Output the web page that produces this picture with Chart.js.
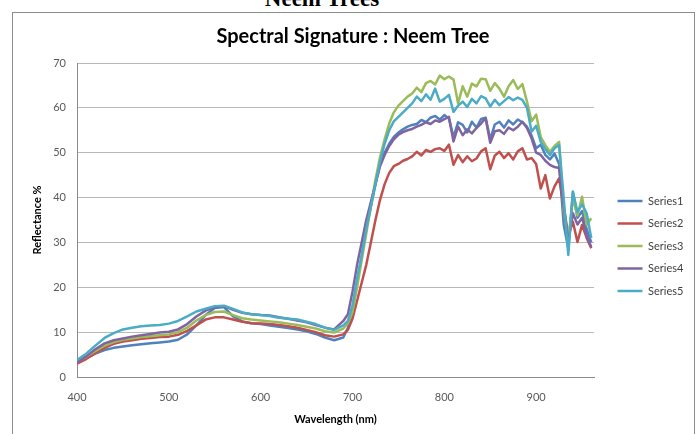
<!DOCTYPE html>
<html>
<head>
<meta charset="utf-8">
<script src="https://cdn.jsdelivr.net/npm/chart.js@4"></script>
<style>
  body { margin: 0; background: #fff; }
  #wrap { position: relative; width: 698px; height: 434px; overflow: hidden; }
  #top { position: absolute; left: 222px; top: -13px; width: 200px; text-align: center;
         font: bold 23px/23px "Liberation Serif", serif; color: #000; }
  #frame { position: absolute; left: 12px; top: 12px; width: 681px; height: 440px; border: 1px solid #8c8c8c; }
  canvas { position: absolute; left: 0; top: 0; }
</style>
</head>
<body>
<div id="wrap">
  <div id="top">Neem Trees</div>
  <canvas id="chart" width="698" height="434"></canvas>
  <div id="frame"></div>
</div>
<script>
// wavelengths (nm): 10 nm through the visible, 5 nm from the red edge on
const wavelengths = [
  400, 410, 420, 430, 440, 450, 460, 470, 480, 490,
  500, 510, 520, 530, 540, 550, 560, 570, 580, 590,
  600, 610, 620, 630, 640, 650, 660, 670, 680, 690,
  695, 700, 705, 710, 715, 720, 725, 730, 735, 740, 745,
  750, 755, 760, 765, 770, 775, 780, 785, 790, 795,
  800, 805, 810, 815, 820, 825, 830, 835, 840, 845,
  850, 855, 860, 865, 870, 875, 880, 885, 890, 895,
  900, 905, 910, 915, 920, 925, 930, 935, 940, 945,
  950, 955, 960
];

const series1 = [
  3.2, 4.2, 5.2, 6.0, 6.5, 6.8, 7.1, 7.3, 7.5, 7.7,
  7.9, 8.3, 9.5, 11.5, 13.8, 15.4, 15.6, 13.5, 12.4, 12.0,
  11.8, 11.5, 11.2, 10.9, 10.6, 10.2, 9.6, 8.8, 8.2, 8.8,
  11, 15, 21, 27, 33, 38, 43, 47.5, 50, 52, 53.5,
  54.5, 55.2, 55.8, 56.2, 56.4, 57.3, 56.8, 57.8, 58.2, 57.4,
  58.4, 57.6, 53.5, 56.8, 56.2, 54.5, 56.9, 55.6, 57.5, 57.8,
  53, 56.3, 56.9, 55.6, 57.2, 56.3, 57.4, 56.8, 55.8, 53.8,
  51, 51.8, 49.5, 48.5, 49.8, 47.5, 34, 28.7, 41.3, 35.5,
  37, 33, 30
];
const series2 = [
  3.0, 4.0, 5.3, 6.5, 7.4, 7.9, 8.2, 8.5, 8.7, 8.9,
  9.0, 9.4, 10.3, 11.5, 12.8, 13.3, 13.3, 12.8, 12.3, 12.0,
  11.9, 11.8, 11.6, 11.3, 11.0, 10.5, 10.0, 9.3, 9.0, 9.5,
  10.5, 13, 17, 21, 25, 30, 35, 39.5, 43, 45.5, 47,
  47.5, 48.2, 48.6, 49.2, 50.2, 49.4, 50.6, 50.2, 50.8, 51,
  50.4, 51.8, 47.3, 49.5, 47.9, 49.2, 48.1, 48.7, 50.3, 51,
  46.3, 49.4, 50.2, 48.8, 49.9, 48.5, 50.3, 51, 48.5, 48.8,
  47.5, 42, 45, 39.8, 42.5, 44.3, 38, 31.6, 34.6, 30.1,
  33.9, 31, 28.7
];
const series3 = [
  3.5, 4.5, 5.8, 7.0, 7.8, 8.3, 8.6, 8.9, 9.1, 9.3,
  9.5, 10.0, 11.0, 12.6, 13.8, 14.5, 14.6, 13.8, 13.1, 12.8,
  12.6, 12.4, 12.2, 11.9, 11.6, 11.2, 10.8, 10.2, 9.9, 10.8,
  12, 14.5, 20, 26, 32, 38, 44, 49, 53, 56.5, 59,
  60.5, 61.5, 62.5, 63.2, 64.5, 63.5, 65.5, 66, 65.2, 67.2,
  66.4, 67, 66.3, 61, 64.8, 62.5, 65.4, 64.8, 66.5, 66.4,
  63.8, 65.5, 64.3, 62.5, 64.8, 66.2, 64.2, 65.3, 61.4, 57,
  58.5, 53.5, 51.7, 50.2, 51.5, 52.4, 37, 30.5, 39.8, 36,
  40.2, 33.9, 35.4
];
const series4 = [
  3.3, 4.6, 6.2, 7.5, 8.2, 8.6, 9.0, 9.3, 9.6, 9.9,
  10.1, 10.6, 11.8, 13.5, 14.8, 15.6, 15.8, 15.0, 14.3, 14.0,
  13.8, 13.7, 13.3, 13.0, 12.6, 12.2, 11.6, 11.0, 10.6, 12.5,
  14, 19, 25, 30, 35, 39, 43, 47, 49.5, 51.5, 53,
  54, 54.6, 55, 55.3, 55.8, 56.2, 56.8, 56.4, 57.2, 56.9,
  57.5, 58, 52.5, 55.8, 53.9, 55.2, 54.3, 55.5, 56.5, 57.7,
  52.2, 54.8, 55, 54.2, 55.6, 55, 55.8, 56.9, 55.5, 53.2,
  50, 49.5, 48.2, 47.3, 46.8, 46.6, 38, 30, 36.5, 34,
  35.5, 31.5, 29
];
const series5 = [
  3.8, 5.2, 7.0, 8.7, 9.8, 10.6, 11.0, 11.3, 11.5, 11.6,
  11.9, 12.5, 13.5, 14.6, 15.2, 15.8, 15.9, 15.2, 14.4, 14.0,
  13.8, 13.6, 13.2, 13.0, 12.8, 12.3, 11.8, 11.0, 10.5, 11.5,
  12.5, 16, 22, 27, 33, 38, 43, 48, 52, 55, 57,
  58, 59, 60, 61, 62.5, 61.5, 63, 61.8, 64.3, 61.4,
  62, 62.9, 59.1, 60.5, 61.4, 60.2, 62, 61, 62.6, 62.1,
  60.3, 61.8, 60.6, 61.5, 62.4, 61.7, 62.3, 61.8, 60, 54.7,
  56, 52.4, 50.8, 49.5, 51, 51.7, 40, 27.2, 41.3, 36.8,
  38.5, 36.5, 31
];

const seriesNames = ['Series1', 'Series2', 'Series3', 'Series4', 'Series5'];
const seriesColors = ['#4F81BD', '#C0504D', '#9BBB59', '#8064A2', '#4BACC6'];
const xTicks = [400, 500, 600, 700, 800, 900];
const yTicks = [0, 10, 20, 30, 40, 50, 60, 70];

const allSeries = [series1, series2, series3, series4, series5];

// put legend and title where the Excel chart has them
const placeBoxes = {
  id: 'placeBoxes',
  afterLayout(chart) {
    const lg = chart.legend;
    lg.left = 606; lg.right = 692;
    lg.top = 63; lg.bottom = 429;
    const t = chart.titleBlock;
    t.left = 12; t.right = 694;
  }
};

const font = 'Lato';

new Chart(document.getElementById('chart'), {
  type: 'line',
  data: {
    datasets: allSeries.map((s, i) => ({
      label: seriesNames[i],
      data: wavelengths.map((w, j) => ({ x: w, y: s[j] })),
      borderColor: seriesColors[i],
      backgroundColor: seriesColors[i],
      borderWidth: 2.5,
      pointRadius: 0,
      tension: 0,
      borderJoinStyle: 'round',
      order: 5 - i
    }))
  },
  options: {
    responsive: false,
    animation: false,
    layout: { padding: { left: 0, right: 104, top: 0, bottom: 0 } },
    scales: {
      x: {
        type: 'linear',
        min: 400,
        max: 963,
        afterBuildTicks: s => { s.ticks = xTicks.map(v => ({ value: v })); },
        afterFit: s => { s.height = 57; },
        grid: { display: false, drawTicks: false },
        border: { display: true, color: '#8a8a8a' },
        ticks: { padding: 14, color: '#595959', font: { family: font, size: 11 }, maxRotation: 0, autoSkip: false },
        title: { display: true, text: 'Wavelength (nm)', color: '#000',
                 font: { family: font, size: 11, weight: 'bold' }, padding: { top: 9, bottom: 8.4 } }
      },
      y: {
        min: 0,
        max: 70,
        afterBuildTicks: s => { s.ticks = yTicks.map(v => ({ value: v })); },
        afterFit: s => { s.width = 77; },
        grid: { color: '#b8b8b8', drawTicks: false },
        border: { display: true, color: '#8a8a8a' },
        ticks: { padding: 11, color: '#595959', font: { family: font, size: 11 } },
        title: { display: true, text: 'Reflectance %', color: '#000',
                 font: { family: font, size: 11, weight: 'bold' }, padding: { top: 30.4, bottom: 0 } }
      }
    },
    plugins: {
      title: {
        display: true,
        text: 'Spectral Signature : Neem Tree',
        color: '#000',
        font: { family: font, size: 20, weight: 'bold' },
        padding: { top: 25, bottom: 14 }
      },
      legend: {
        position: 'chartArea',
        align: 'center',
        labels: {
          usePointStyle: true,
          pointStyle: 'line',
          pointStyleWidth: 25,
          padding: 11.5,
          color: '#404040',
          font: { family: font, size: 11 },
          sort: (a, b) => a.datasetIndex - b.datasetIndex
        }
      },
      tooltip: { enabled: false }
    }
  },
  plugins: [placeBoxes]
});
</script>
</body>
</html>
